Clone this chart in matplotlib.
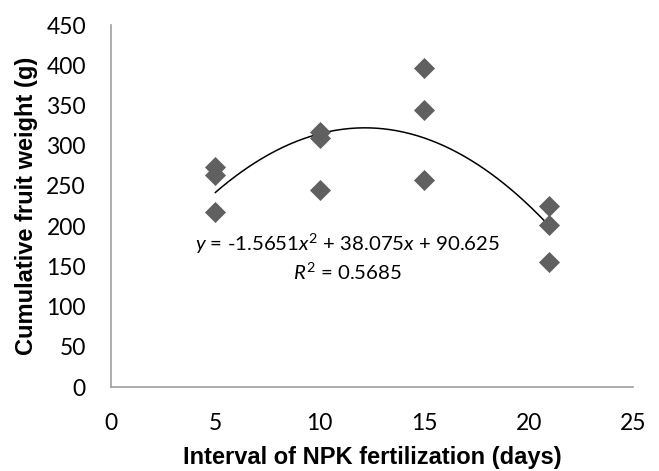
import numpy as np
import matplotlib.pyplot as plt

plt.rcParams['mathtext.fontset'] = 'custom'
plt.rcParams['mathtext.it'] = 'Lato:italic'
plt.rcParams['mathtext.rm'] = 'Lato'

# interval of NPK fertilization (days) and cumulative fruit weight (g)
interval = [5, 5, 5, 10, 10, 10, 15, 15, 15, 21, 21, 21]
weight = [273, 264, 218, 317, 309, 245, 396, 344, 257, 225, 201, 156]

# trend line coefficients shown on the chart
coef = [-1.5651, 38.075, 90.625]
r2 = 0.5685

fig = plt.figure(figsize=(6.59, 4.71), dpi=100)
ax = fig.add_axes([0.1684, 0.1783, 0.7921, 0.7686])

ax.scatter(interval, weight, marker='D', s=115, color='#606060', zorder=3, linewidths=0)

xs = np.linspace(min(interval), max(interval), 200)
ax.plot(xs, np.polyval(coef, xs), color='black', lw=1.1)

ax.set_xlim(0, 25)
ax.set_ylim(0, 450)
ax.set_xticks(range(0, 26, 5))
ax.set_yticks(range(0, 451, 50))

for s in ['top', 'right']:
    ax.spines[s].set_visible(False)
for s in ['left', 'bottom']:
    ax.spines[s].set_color('#a0a0a0')
    ax.spines[s].set_linewidth(1.2)

ax.tick_params(axis='x', length=0, pad=19)
ax.tick_params(axis='y', length=0, pad=18)
for lab in ax.get_xticklabels() + ax.get_yticklabels():
    lab.set_fontfamily('Lato')
    lab.set_fontsize(16.5)

ax.set_xlabel('Interval of NPK fertilization (days)', fontfamily='Liberation Sans',
              fontweight='bold', fontsize=17, labelpad=8)
ax.set_ylabel('Cumulative fruit weight (g)', fontfamily='Liberation Sans',
              fontweight='bold', fontsize=17, labelpad=6)

ax.text(11.33, 178, '$y$ = -1.5651$x^2$ + 38.075$x$ + 90.625', ha='center', va='center',
        fontfamily='Lato', fontsize=14.7)
ax.text(11.33, 143, '$R^2$ = %.4f' % r2, ha='center', va='center',
        fontfamily='Lato', fontsize=14.7)

fig.savefig('out.png', dpi=100)
